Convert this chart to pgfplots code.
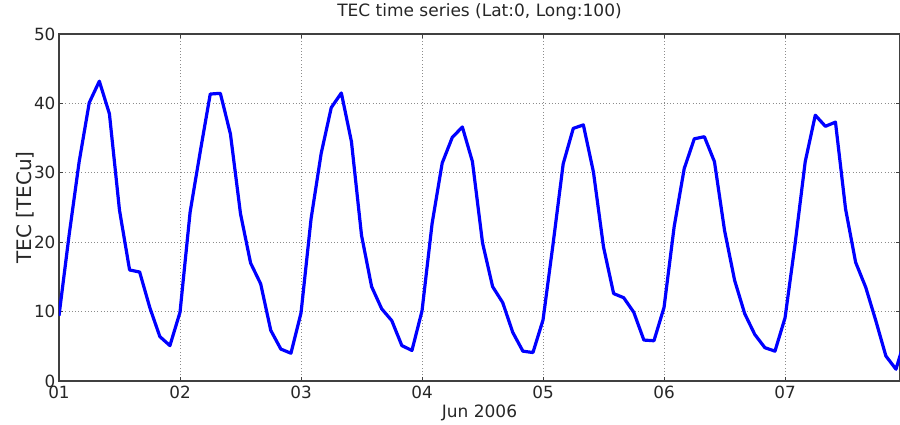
\documentclass[border=0pt]{standalone}
\usepackage{fontspec}
\setmainfont{DejaVu Sans}
\newfontfamily\stray{Liberation Serif}
\usepackage{pgfplots}
\pgfplotsset{compat=1.18}
\usetikzlibrary{calc}

\begin{document}
\begin{tikzpicture}
% 1 px of the 900x425 reference = 0.75pt
\begin{axis}[
    name=ax,
    width=630.75pt, height=260.25pt, scale only axis,
    xmin=0, xmax=166.8, ymin=0, ymax=50,
    xtick={0,24,...,144},
    xticklabels={01,02,03,04,05,06,07},
    ytick={0,10,...,50},
    /pgf/number format/assume math mode=true,
    tick align=inside,
    major tick length=3pt,
    tick style={black!75, line width=0.6pt},
    axis line style={black!75, line width=0.9pt},
    grid=major,
    grid style={dotted, black!45, line width=0.6pt},
    ticklabel style={font=\fontsize{12.6}{15}\selectfont, text=black!85},
    yticklabel style={inner sep=2.5pt},
    title={TEC time series (Lat:0, Long:100)},
    title style={at={(axis description cs:0.5,1)}, anchor=base, yshift=7.1pt,
        font=\fontsize{12.75}{15}\selectfont, text=black!85},
    xlabel={Jun 2006},
    xlabel style={at={(axis description cs:0.5,0)}, anchor=base, yshift=-27pt,
        font=\fontsize{12.75}{15}\selectfont, text=black!85},
    ylabel={TEC [TECu]},
    ylabel style={at={(axis description cs:-0.0398,0.5)}, anchor=center,
        font=\fontsize{15}{18}\selectfont, text=black!85},
]
\addplot[blue, line width=2.4pt, line join=round] coordinates {
(0,9.4) (2,21.0) (4,31.6) (6,40.1) (8,43.2) (10,38.5) (12,24.6) (14,16.0)
(16,15.7) (18,10.6) (20,6.4) (22,5.1) (24,9.9) (26,24.3) (28,33.0) (30,41.35)
(32,41.45) (34,35.6) (36,24.1) (38,17.0) (40,14.0) (42,7.3) (44,4.6) (46,4.0)
(48,9.8) (50,23.4) (52,32.8) (54,39.4) (56,41.5) (58,34.5) (60,21.0) (62,13.6)
(64,10.4) (66,8.7) (68,5.1) (70,4.4) (72,10.1) (74,22.7) (76,31.4) (78,35.1)
(80,36.6) (82,31.6) (84,19.9) (86,13.6) (88,11.3) (90,7.0) (92,4.3) (94,4.1)
(96,8.8) (98,19.8) (100,31.3) (102,36.4) (104,36.9) (106,30.1) (108,19.3) (110,12.6)
(112,12.0) (114,9.9) (116,5.9) (118,5.8) (120,10.6) (122,22.2) (124,30.6) (126,34.9)
(128,35.2) (130,31.6) (132,21.7) (134,14.5) (136,9.7) (138,6.7) (140,4.8) (142,4.3)
(144,9.1) (146,19.8) (148,31.6) (150,38.3) (152,36.7) (154,37.3) (156,24.8) (158,17.1)
(160,13.5) (162,8.7) (164,3.6) (166,1.7) (168,6.5)
};
% stray glyph at the left edge of the reference
\node[rotate=90, font=\stray\fontsize{14}{16}\selectfont, inner sep=0pt]
    at (axis description cs:-0.0635,0.56) {e};
\end{axis}
\pgfresetboundingbox
\path[use as bounding box] ($(ax.south west)+(-44.25pt,-33pt)$) rectangle ($(ax.north east)+(0pt,25.5pt)$);
\end{tikzpicture}
\end{document}
